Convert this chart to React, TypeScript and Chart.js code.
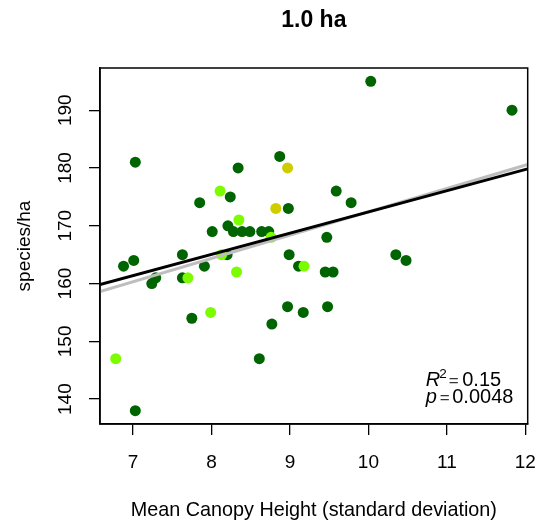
import React, { useEffect, useRef } from "react";
import { Chart, registerables } from "chart.js";

Chart.register(...registerables);

// ---- data ----
const darkX = [7.03, 8.87, 8.34, 8.24, 7.85, 8.98, 8.21, 8.01, 8.28, 8.39, 8.49, 8.64, 8.73, 10.03, 11.83, 9.59, 9.78, 9.47, 6.88, 7.01, 7.63, 8.2, 7.29, 7.24, 7.63, 7.91, 8.99, 9.11, 7.75, 8.97, 9.17, 8.77, 8.61, 7.03, 9.45, 9.55, 10.35, 10.48, 9.48];
const darkY = [181, 182, 180, 175, 174, 173, 170, 169, 169, 169, 169, 169, 169, 195, 190, 176, 174, 168, 163, 164, 165, 165, 161, 160, 161, 163, 165, 163, 154, 156, 155, 153, 147, 138, 162, 162, 165, 164, 156];
const lightX = [8.11, 8.35, 8.76, 8.13, 7.7, 8.32, 9.18, 7.99, 6.78];
const lightY = [176, 171, 168, 165, 161, 162, 163, 155, 147];
const yellowX = [8.97, 8.82];
const yellowY = [180, 173];

const fitX = [6.58, 12.03];
const fitBlackY = [159.85, 179.85];
const fitGrayY = [158.6, 180.6];

const xTicks = [7, 8, 9, 10, 11, 12];
const yTicks = [140, 150, 160, 170, 180, 190];

const titleText = "1.0 ha";
const xTitle = "Mean Canopy Height (standard deviation)";
const yTitle = "species/ha";
const r2Text = "0.15";
const pText = "0.0048";

const FONT = "'Liberation Sans', Arial, Helvetica, sans-serif";

const pts = (xs: number[], ys: number[]) => xs.map((x, i) => ({ x, y: ys[i] }));

const boxPlugin = {
  id: "boxAndStats",
  afterDraw(chart: any) {
    const { ctx, chartArea } = chart;
    ctx.save();
    ctx.strokeStyle = "#000";
    ctx.lineWidth = 1.5;
    ctx.strokeRect(chartArea.left, chartArea.top, chartArea.right - chartArea.left, chartArea.bottom - chartArea.top);

    ctx.fillStyle = "#000";
    ctx.textAlign = "left";
    ctx.textBaseline = "alphabetic";
    const x0 = chartArea.right - 102;
    const b1 = chartArea.bottom - 38;
    const b2 = chartArea.bottom - 20.7;
    ctx.font = `italic 20px ${FONT}`;
    ctx.fillText("R", x0, b1);
    ctx.font = `13.5px ${FONT}`;
    ctx.fillText("2", x0 + 13.5, b1 - 8.5);
    ctx.font = `17px ${FONT}`;
    ctx.fillStyle = "#333";
    ctx.fillText("=", x0 + 23, b1 - 0.5);
    ctx.fillStyle = "#000";
    ctx.font = `20px ${FONT}`;
    ctx.fillText(r2Text, x0 + 36.5, b1);
    ctx.font = `italic 20px ${FONT}`;
    ctx.fillText("p", x0, b2);
    ctx.font = `17px ${FONT}`;
    ctx.fillStyle = "#333";
    ctx.fillText("=", x0 + 14, b2 - 0.5);
    ctx.fillStyle = "#000";
    ctx.font = `20px ${FONT}`;
    ctx.fillText(pText, x0 + 26.5, b2);
    ctx.restore();
  },
};

export default function App() {
  const ref = useRef<HTMLCanvasElement | null>(null);

  useEffect(() => {
    if (!ref.current) return;
    const chart = new Chart(ref.current, {
      type: "scatter",
      data: {
        datasets: [
          {
            type: "line",
            data: pts(fitX, fitBlackY),
            borderColor: "#000000",
            borderWidth: 3,
            pointRadius: 0,
            order: 0,
          } as any,
          {
            type: "line",
            data: pts(fitX, fitGrayY),
            borderColor: "#bebebe",
            borderWidth: 3,
            pointRadius: 0,
            order: 1,
          } as any,
          {
            data: pts(yellowX, yellowY),
            backgroundColor: "#cdcd00",
            pointRadius: 5.5,
            borderWidth: 0,
            order: 2,
          },
          {
            data: pts(lightX, lightY),
            backgroundColor: "#7cfc00",
            pointRadius: 5.5,
            borderWidth: 0,
            order: 3,
          },
          {
            data: pts(darkX, darkY),
            backgroundColor: "#006400",
            pointRadius: 5.5,
            borderWidth: 0,
            order: 4,
          },
        ],
      },
      options: {
        responsive: false,
        animation: false,
        events: [],
        layout: { padding: { left: 0, right: 0, top: 0, bottom: 0 } },
        plugins: {
          legend: { display: false },
          tooltip: { enabled: false },
          title: {
            display: true,
            text: titleText,
            color: "#000",
            fullSize: false,
            font: { family: FONT, size: 23, weight: "bold" },
            padding: { top: 6.8, bottom: 33.6 },
          },
        },
        scales: {
          x: {
            type: "linear",
            position: "bottom",
            min: 6.58,
            max: 12.03,
            afterBuildTicks: (s: any) => {
              s.ticks = xTicks.map((v) => ({ value: v }));
            },
            afterFit: (s: any) => {
              s.height = 101;
              s.paddingLeft = 0;
              s.paddingRight = 11.3;
            },
            ticks: {
              autoSkip: false,
              minRotation: 0,
              maxRotation: 0,
              padding: 16.8,
              color: "#000",
              font: { family: FONT, size: 19 },
            },
            grid: { drawOnChartArea: false, drawTicks: true, tickLength: 11, color: "#000", lineWidth: 1.3 },
            border: { display: true, color: "#000", width: 1.5 },
            title: {
              display: true,
              text: xTitle,
              color: "#000",
              font: { family: FONT, size: 19.8 },
              padding: { top: 0, bottom: 2.5 },
            },
          },
          y: {
            type: "linear",
            position: "left",
            min: 135.7,
            max: 197.3,
            afterBuildTicks: (s: any) => {
              s.ticks = yTicks.map((v) => ({ value: v }));
            },
            afterFit: (s: any) => {
              s.width = 100;
              s.paddingTop = 0;
              s.paddingBottom = 0;
            },
            ticks: {
              autoSkip: false,
              minRotation: 90,
              maxRotation: 90,
              crossAlign: "center",
              padding: 7,
              color: "#000",
              font: { family: FONT, size: 19 },
            },
            grid: { drawOnChartArea: false, drawTicks: true, tickLength: 11, color: "#000", lineWidth: 1.3 },
            border: { display: true, color: "#000", width: 1.5 },
            title: {
              display: true,
              text: yTitle,
              color: "#000",
              font: { family: FONT, size: 19 },
              padding: { top: 13.6, bottom: 0 },
            },
          },
        },
      },
      plugins: [boxPlugin],
    } as any);
    return () => chart.destroy();
  }, []);

  return (
    <canvas
      ref={ref}
      width={539}
      height={525}
      style={{ position: "absolute", left: 0, top: 0, width: 539, height: 525, display: "block", background: "#fff" }}
    />
  );
}
